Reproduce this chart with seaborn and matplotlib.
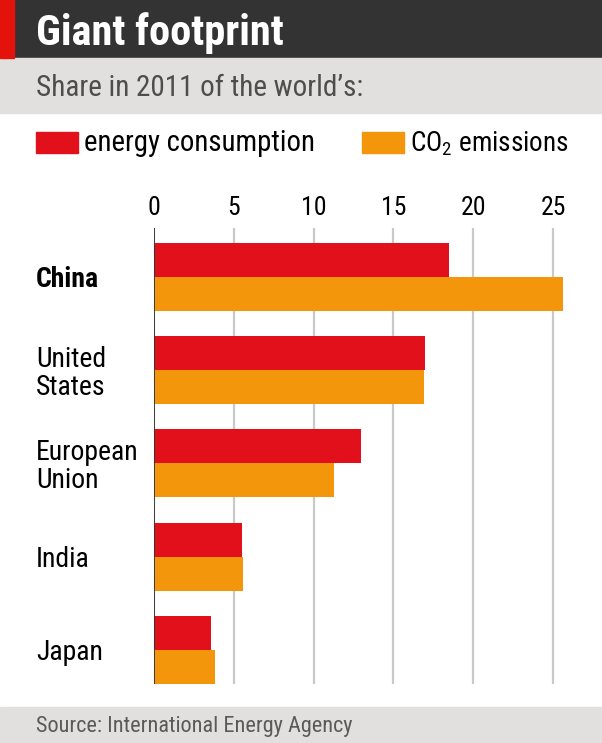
import matplotlib
matplotlib.use("Agg")
import matplotlib.pyplot as plt
from matplotlib import font_manager
from matplotlib.patches import Rectangle
import seaborn as sns
import pandas as pd

# ---- data ----
countries = ["China", "United\nStates", "European\nUnion", "India", "Japan"]
energy = [18.5, 17.0, 13.0, 5.5, 3.6]
co2 = [25.6, 16.9, 11.3, 5.6, 3.8]
series_names = ["energy consumption", "CO$_2$ emissions"]
xticks = [0, 5, 10, 15, 20, 25]

RED = "#e2101a"
ORANGE = "#f4960c"

avail = {f.name for f in font_manager.fontManager.ttflist}
FONT = "DejaVu Sans"
for cand in ["Liberation Sans Narrow", "Roboto Condensed", "Open Sans Condensed", "Noto Sans", "Roboto"]:
    if cand in avail:
        FONT = cand
        break

sns.set_theme(style="white")
plt.rcParams["font.family"] = [FONT, "DejaVu Sans"]
plt.rcParams["mathtext.fontset"] = "custom"
plt.rcParams["mathtext.rm"] = FONT

W, H = 602, 743
fig = plt.figure(figsize=(W / 100, H / 100), dpi=100)

def fx(x):
    return x / W

def fy(y):
    return 1 - y / H

# header bands
fig.patches.append(Rectangle((0, fy(58)), 1, 58 / H, transform=fig.transFigure, color="#333333", zorder=0))
fig.patches.append(Rectangle((0, fy(58)), fx(14), 58 / H, transform=fig.transFigure, color="#e3120b", zorder=1))
fig.patches.append(Rectangle((0, fy(113)), 1, 55 / H, transform=fig.transFigure, color="#e2e0de", zorder=0))
fig.patches.append(Rectangle((0, 0), 1, (H - 707) / H, transform=fig.transFigure, color="#e2e0de", zorder=0))

fig.text(fx(36), fy(45), "Giant footprint", color="white", fontsize=30.5, fontweight="bold", va="baseline")
fig.text(fx(36), fy(96), "Share in 2011 of the world\u2019s:", color="#4d4d4d", fontsize=21, va="baseline")
fig.text(fx(36), fy(732), "Source: International Energy Agency", color="#5a5a5a", fontsize=16, va="baseline")

# legend
fig.patches.append(Rectangle((fx(36), fy(153)), 42 / W, 21 / H, transform=fig.transFigure, color=RED))
fig.patches.append(Rectangle((fx(362), fy(153)), 42 / W, 21 / H, transform=fig.transFigure, color=ORANGE))
fig.text(fx(84), fy(151), series_names[0], color="black", fontsize=20.7, va="baseline")
fig.text(fx(410), fy(151), series_names[1], color="black", fontsize=19.5, va="baseline")

# axes
px_per_unit = 79.8 / 5
ax_left, ax_top, ax_bottom = 154, 228, 684
ax = fig.add_axes([fx(ax_left), fy(ax_bottom), (W - ax_left) / W, (ax_bottom - ax_top) / H])

df = pd.DataFrame({
    "country": countries * 2,
    "value": energy + co2,
    "series": [series_names[0]] * len(countries) + [series_names[1]] * len(countries),
})
sns.barplot(data=df, y="country", x="value", hue="series", orient="h",
            palette=[RED, ORANGE], saturation=1, width=0.73, linewidth=0,
            legend=False, ax=ax, zorder=2)

ax.set_xlim(0, (W - ax_left) / px_per_unit)
ax.set_ylim(4.365, -0.525)
for s in ax.spines.values():
    s.set_visible(False)
ax.set_xticks(xticks)
ax.xaxis.tick_top()
ax.tick_params(axis="x", length=0, pad=6, labelsize=18.5, labelcolor="black")
ax.grid(axis="x", color="#c9c9c9", linewidth=1.6)
ax.grid(axis="y", visible=False)
ax.set_axisbelow(True)
ax.axvline(0, color="#333333", linewidth=1.3, zorder=3)
ax.set_xlabel("")
ax.set_ylabel("")

ax.set_yticks(range(len(countries)))
ax.set_yticklabels(countries)
ax.tick_params(axis="y", length=0, pad=(ax_left - 36) * 0.72, labelsize=20, labelcolor="black")
for i, lab in enumerate(ax.get_yticklabels()):
    lab.set_horizontalalignment("left")
    lab.set_multialignment("left")
    lab.set_linespacing(1.02)
    if i == 0:
        lab.set_fontweight("bold")

fig.savefig("out.png", dpi=100)
